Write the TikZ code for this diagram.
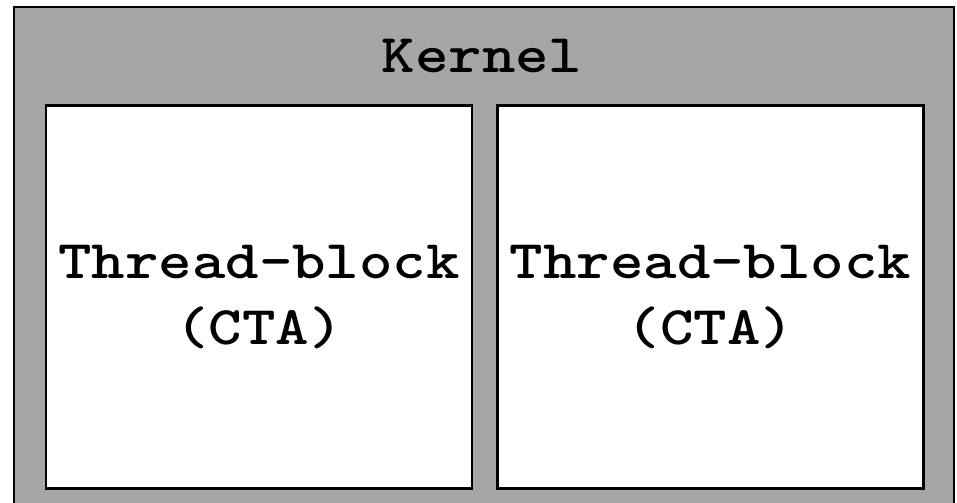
\documentclass[tikz,border=0pt]{standalone}
\definecolor{kernelgray}{RGB}{166,166,166}
\newcommand{\wide}[1]{\scalebox{1.17}[1]{#1}}
\begin{document}
\begin{tikzpicture}[x=0.02cm, y=-0.02cm,
	ctabox/.style={draw=black, line width=1.3pt, fill=white, minimum width=8.52cm, minimum height=7.66cm, inner sep=0pt, align=center, font=\ttfamily\bfseries\fontsize{31}{38}\selectfont}]
	\clip (0, 0) rectangle (957, 503);
	\draw[fill=kernelgray, line width=1.4pt] (14, 7) rectangle (954, 520);
	\node[font=\ttfamily\bfseries\fontsize{31}{38}\selectfont, anchor=base] (kernel) at (482, 73) {\wide{Kernel}};
	\node[ctabox] (cta1) at (259, 297) {\wide{Thread-block}\\\wide{(CTA)}};
	\node[ctabox] (cta2) at (710.5, 297) {\wide{Thread-block}\\\wide{(CTA)}};
\end{tikzpicture}
\end{document}
